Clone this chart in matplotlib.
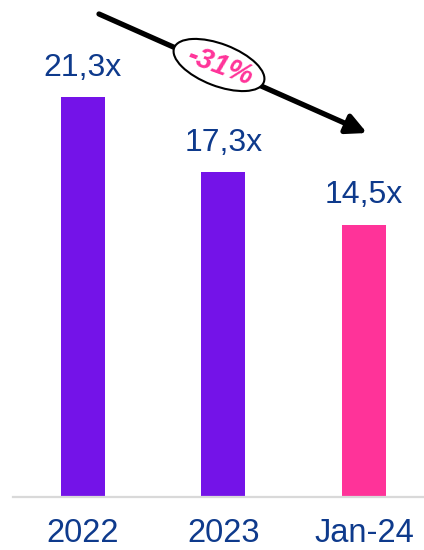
import matplotlib
matplotlib.use("Agg")
import matplotlib.pyplot as plt
from matplotlib.patches import Ellipse

categories = ["2022", "2023", "Jan-24"]
values = [21.3, 17.3, 14.5]
labels = ["21,3x", "17,3x", "14,5x"]
bar_colors = ["#7413E8", "#7413E8", "#FF3399"]
change_label = "-31%"

W, H = 424, 550
fig = plt.figure(figsize=(W / 100, H / 100), dpi=100)
plt.rcParams['font.family'] = ['Liberation Sans', 'DejaVu Sans']

base = 497
ax = fig.add_axes([13 / W, 1 - base / H, 1 - 13 / W, base / H])
x = list(range(len(categories)))
ax.bar(x, values, width=0.313, color=bar_colors, zorder=2)
ax.set_xlim(-0.498, 2.427)
ax.set_ylim(0, 26.46)
for s in ["top", "right", "left"]:
    ax.spines[s].set_visible(False)
ax.spines["bottom"].set_color("#D9D9D9")
ax.spines["bottom"].set_linewidth(1.6)
ax.set_yticks([])
ax.set_xticks(x)
ax.set_xticklabels(categories, fontsize=23.5, color="#0E3A8C")
ax.tick_params(axis="x", length=0, pad=15)

for xi, v, lab in zip(x, values, labels):
    ax.annotate(lab, (xi, v), xytext=(0, 21), textcoords="offset points",
                ha="center", va="center", fontsize=23, color="#0E3A8C")

# overlay in pixel coordinates
ov = fig.add_axes([0, 0, 1, 1])
ov.set_xlim(0, W)
ov.set_ylim(H, 0)
ov.axis("off")
ov.patch.set_alpha(0)
ov.annotate("", xy=(367, 133), xytext=(99, 14),
            arrowprops=dict(arrowstyle="-|>,head_length=1.2,head_width=0.6",
                            color="black", lw=3.8, shrinkA=0, shrinkB=0))
ell = Ellipse((219, 65), 96, 42, angle=21, facecolor="white",
              edgecolor="black", lw=1.5, zorder=3)
ov.add_patch(ell)
ov.text(220, 66, change_label, ha="center", va="center", rotation=-20,
        fontsize=21, fontweight="bold", fontstyle="italic", color="#FF3399",
        zorder=4)

fig.savefig("out.png", dpi=100)
